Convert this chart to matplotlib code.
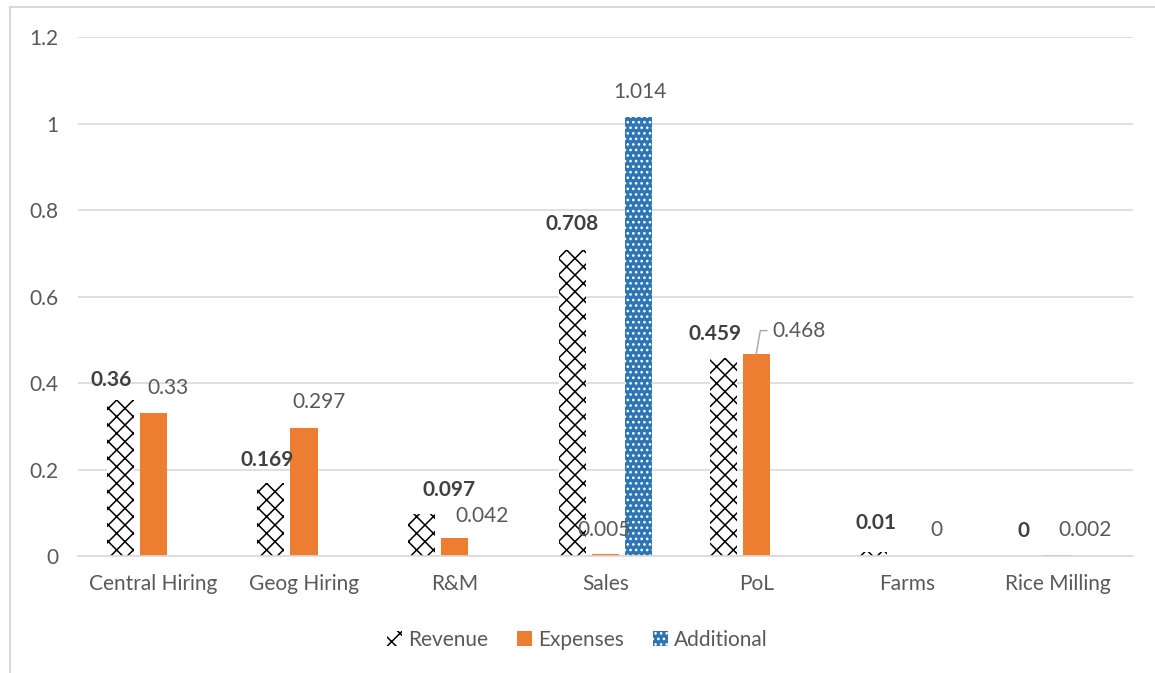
import matplotlib.pyplot as plt
import numpy as np
from matplotlib.lines import Line2D
from matplotlib.patches import Patch

plt.rcParams['font.family'] = ['Lato', 'DejaVu Sans']
plt.rcParams['hatch.linewidth'] = 1.1

# data
categories = ['Central Hiring', 'Geog Hiring', 'R&M', 'Sales', 'PoL', 'Farms', 'Rice Milling']
revenue = [0.36, 0.169, 0.097, 0.708, 0.459, 0.01, 0]
expenses = [0.33, 0.297, 0.042, 0.005, 0.468, 0, 0.002]
additional = [0, 0, 0, 1.014, 0, 0, 0]
rev_lbl = ['0.36', '0.169', '0.097', '0.708', '0.459', '0.01', '0']
exp_lbl = ['0.33', '0.297', '0.042', '0.005', '0.468', '0', '0.002']

# label offsets in pixels (dx, dy from bar top)
rev_off = [(-9, 20), (-4, 23), (27, 24), (0, 26), (-8, 24), (2, 29), (-1, 25)]
exp_off = [(15, 25), (15, 26), (27, 22), (-1, 24), (43, 23), (29, 26), (27, 25)]

grey = '#595959'
orange = '#ED7D31'
blue = '#2E75B6'
fs = 15

fig = plt.figure(figsize=(11.55, 6.73), dpi=100)
ax = fig.add_axes([0.0675, 0.1738, 0.9135, 0.7712])

x = np.arange(len(categories))
w = 0.18
off = 0.22

ax.bar(x - off, revenue, w, facecolor='white', edgecolor='black', hatch='xx', linewidth=0)
ax.bar(x, expenses, w, color=orange)
ax.bar(x[3] + off, additional[3], w, facecolor=blue, edgecolor='white', hatch='...', linewidth=0)

for i in range(len(categories)):
    ax.annotate(rev_lbl[i], (x[i] - off, revenue[i]), xytext=rev_off[i], textcoords='offset pixels',
                ha='center', va='center', fontsize=fs, fontweight='bold', color='#404040')
    if i == 4:
        ax.annotate(exp_lbl[i], (x[i], expenses[i]), xytext=exp_off[i], textcoords='offset pixels',
                    ha='center', va='center', fontsize=fs, color=grey,
                    arrowprops=dict(arrowstyle='-', color='#a6a6a6', lw=1,
                                    connectionstyle='angle,angleA=0,angleB=80,rad=0',
                                    shrinkA=2, shrinkB=0))
    else:
        ax.annotate(exp_lbl[i], (x[i], expenses[i]), xytext=exp_off[i], textcoords='offset pixels',
                    ha='center', va='center', fontsize=fs, color=grey)
ax.annotate('1.014', (x[3] + off, additional[3]), xytext=(1, 25), textcoords='offset pixels',
            ha='center', va='center', fontsize=fs, color=grey)

ax.set_xlim(-0.5, len(categories) - 0.5)
ax.set_ylim(0, 1.2)
ax.set_yticks([0, 0.2, 0.4, 0.6, 0.8, 1, 1.2])
ax.set_yticklabels(['0', '0.2', '0.4', '0.6', '0.8', '1', '1.2'])
ax.set_xticks(x)
ax.set_xticklabels(categories)
ax.grid(axis='y', color='#d9d9d9', linewidth=1.2)
ax.set_axisbelow(True)
for s in ['top', 'right', 'left']:
    ax.spines[s].set_visible(False)
ax.spines['bottom'].set_color('#d9d9d9')
ax.spines['bottom'].set_linewidth(1.2)
ax.tick_params(axis='both', length=0, labelsize=fs, colors=grey)
ax.tick_params(axis='y', pad=14)
ax.tick_params(axis='x', pad=13)

handles = [Patch(facecolor='white', edgecolor='black', hatch='xx', linewidth=0),
           Patch(facecolor=orange),
           Patch(facecolor=blue, edgecolor='white', hatch='...', linewidth=0)]
fig.legend(handles, ['Revenue', 'Expenses', 'Additional'], loc='center', bbox_to_anchor=(0.5, 0.049),
           ncol=3, frameon=False, fontsize=fs, labelcolor=grey, handlelength=0.7, handleheight=0.7,
           handletextpad=0.3, columnspacing=1.4)

# chart border (partly cut in the screenshot)
fig.add_artist(Line2D([10 / 1155, 1], [1 - 7 / 673, 1 - 7 / 673], color='#d9d9d9', lw=1.5))
fig.add_artist(Line2D([10 / 1155, 10 / 1155], [0, 1 - 7 / 673], color='#d9d9d9', lw=1.5))
fig.text(0.242, 1.006, 'g', color=blue, fontsize=16, va='baseline')

fig.savefig('out.png', dpi=100)
